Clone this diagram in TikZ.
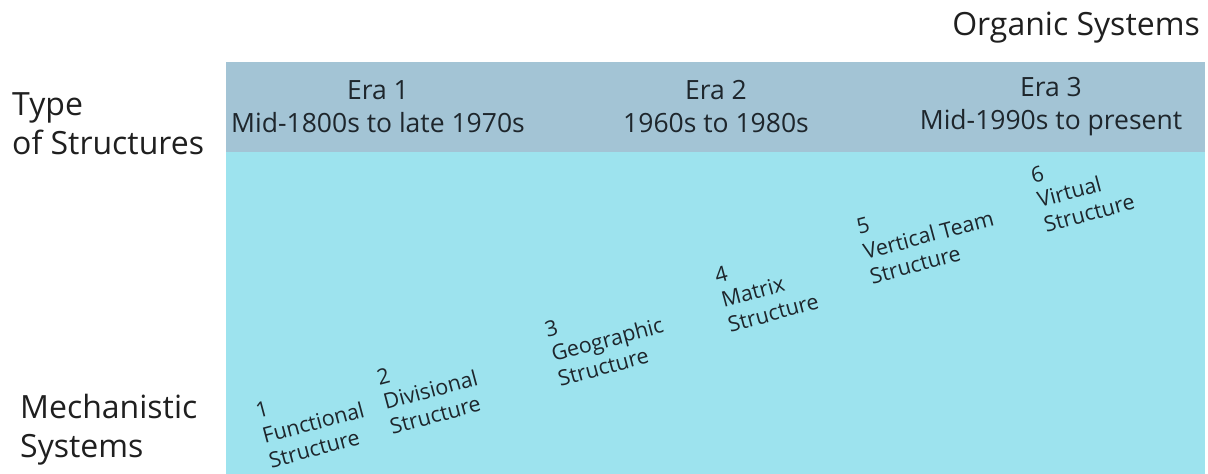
\documentclass[tikz,border=0pt]{standalone}
\usepackage{fontspec}
\setmainfont{Open Sans}
\definecolor{headband}{RGB}{163,196,213}
\definecolor{bodyband}{RGB}{157,227,238}
\definecolor{inktext}{RGB}{30,38,44}
\begin{document}
\begin{tikzpicture}[x=1pt, y=-1pt,
  sidelabel/.style={align=left, anchor=west, inner sep=0pt, text=black!88, font=\fontsize{32}{39}\selectfont},
  eralabel/.style={align=center, inner sep=0pt, text=inktext, font=\fontsize{26.5}{33}\selectfont},
  structlabel/.style={align=left, anchor=north west, inner sep=0pt, rotate=15, text=inktext, font=\fontsize{21.5}{25.5}\selectfont}]
\useasboundingbox (0,0) rectangle (1208,474);
\fill[headband] (226,62) rectangle (1205,152);
\fill[bodyband] (226,152) rectangle (1205,474);

\node (organic) [anchor=east, inner sep=0pt, text=black!88, font=\fontsize{32}{39}\selectfont] at (1200,28) {Organic Systems};
\node (type) [sidelabel] at (12,124) {Type\\of Structures};
\node (mech) [sidelabel] at (20,430) {Mechanistic\\Systems};

\node (era1) [eralabel] at (378,107) {Era 1\\Mid-1800s to late 1970s};
\node (era2) [eralabel] at (716,107) {Era 2\\1960s to 1980s};
\node (era3) [eralabel] at (1051,107) {Era 3\\Mid-1990s to present};

\node (functional) [structlabel] at (254,404) {1\\Functional\\Structure};
\node (divisional) [structlabel] at (375,370) {2\\Divisional\\Structure};
\node (geographic) [structlabel] at (543,322) {3\\Geographic\\Structure};
\node (matrix) [structlabel] at (713,268) {4\\Matrix\\Structure};
\node (vertical) [structlabel] at (855,220) {5\\Vertical Team\\Structure};
\node (virtual) [structlabel] at (1029,168) {6\\Virtual\\Structure};
\end{tikzpicture}
\end{document}
